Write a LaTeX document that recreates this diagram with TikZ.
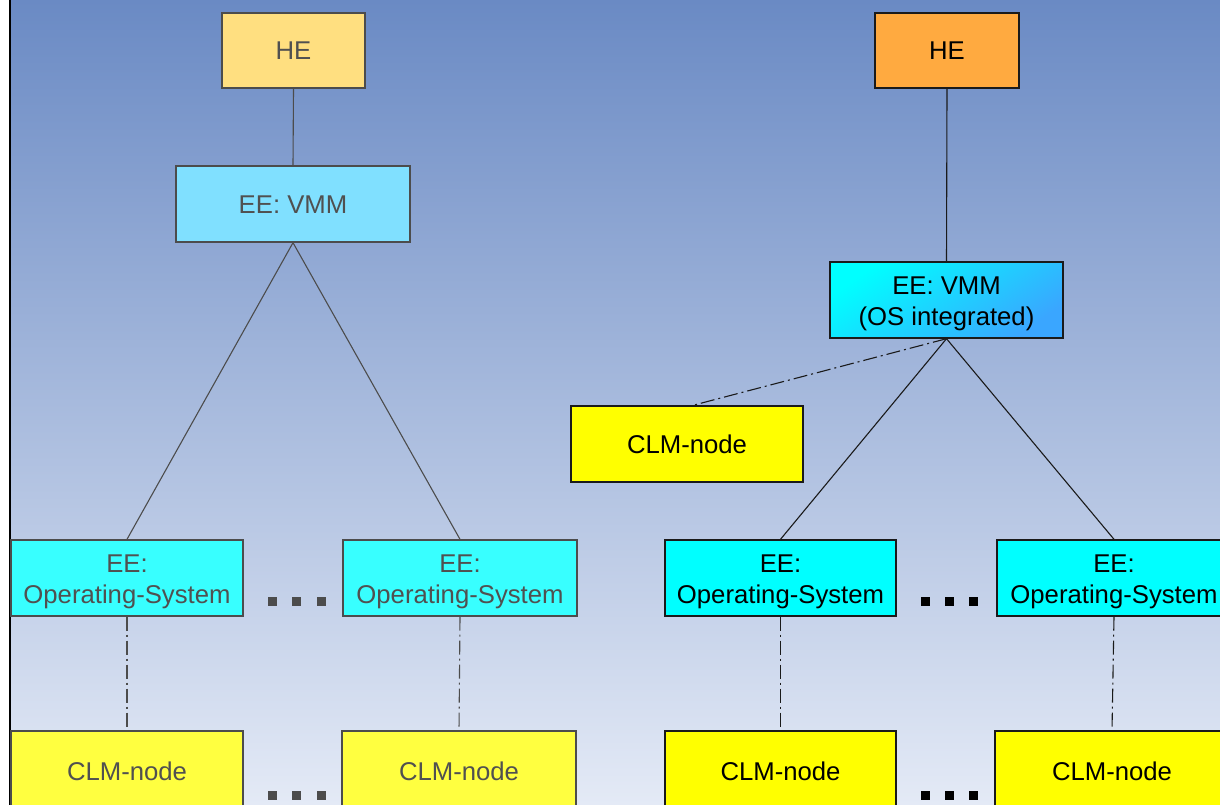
\documentclass[tikz,border=0pt]{standalone}
\usepackage{fontspec}
\setmainfont{Liberation Sans}
\usetikzlibrary{calc}
\definecolor{bgtop}{HTML}{6A8AC4}
\definecolor{bgbot}{HTML}{E4EAF6}
\definecolor{fadeline}{HTML}{4C4C4C}
\definecolor{fadetext}{HTML}{505050}
\definecolor{heA}{HTML}{FFDF80}
\definecolor{vmmA}{HTML}{80E0FF}
\definecolor{osA}{HTML}{38FFFF}
\definecolor{clmA}{HTML}{FFFF40}
\definecolor{heB}{HTML}{FFAA40}
\definecolor{vmmB1}{HTML}{00FFFF}
\definecolor{vmmB2}{HTML}{3AA6FF}
\definecolor{osB}{HTML}{00FFFF}
\definecolor{clmB}{HTML}{FFFF00}
\definecolor{edgeB}{HTML}{1A1A1A}
% set a label a little below its natural place, keeping its box size
\newcommand\lowered[2][4pt]{\raisebox{-#1}[\height][\depth]{#2}}
\newcommand\twolines[2]{\lowered{\begin{tabular}{@{}c@{}}#1\\#2\end{tabular}}}
\tikzset{
  box/.style={draw, line width=1.4pt, inner sep=0pt, align=center,
    minimum height=76pt, font=\fontsize{25.7}{31}\selectfont},
  faded/.style={box, draw=fadeline, text=fadetext},
  solid box/.style={box, draw=edgeB, text=black},
  link/.style={line width=1.1pt},
  dashdot link/.style={line width=1.1pt, dash pattern=on 14pt off 4pt on 2pt off 4pt},
  dotsq/.style={minimum size=9pt, inner sep=0pt}
}
\begin{document}
\begin{tikzpicture}[x=1pt,y=-1pt]
  \useasboundingbox (0,0) rectangle (1220,805);
  \begin{scope}
    \clip (0,0) rectangle (1220,805);
    % backdrop
    \fill[white] (0,0) rectangle (10,805);
    \shade[top color=bgtop, bottom color=bgbot] (10,0) rectangle (1220,805);
    \draw[black, line width=1.4pt] (10,0) -- (10,805);

    % ---------- left tree (faded) ----------
    \node[faded, fill=heA, minimum width=143pt, minimum height=75pt] (lhe) at (293.5,50.5) {HE};
    \node[faded, fill=vmmA, minimum width=234pt] (lvmm) at (293,204) {\lowered[1pt]{EE: VMM}};
    \node[faded, fill=osA, minimum width=232pt] (los1) at (127,578) {\twolines{EE:}{Operating-System}};
    \node[faded, fill=osA, minimum width=234pt] (los2) at (460,578) {\twolines{EE:}{Operating-System}};
    \node[faded, fill=clmA, minimum width=232pt] (lclm1) at (127,769) {\lowered[2pt]{CLM-node}};
    \node[faded, fill=clmA, minimum width=234pt] (lclm2) at (459,769) {\lowered[2pt]{CLM-node}};

    \draw[link, fadeline] (lhe.south) -- (lvmm.north);
    \draw[link, fadeline] (lvmm.south) -- (los1.north);
    \draw[link, fadeline] (lvmm.south) -- (los2.north);
    \draw[dashdot link, fadeline] (los1.south) -- (lclm1.north);
    \draw[dashdot link, fadeline] (los2.south) -- (lclm2.north);

    \foreach \x [count=\i] in {272,296.5,321} {
      \node[dotsq, fill=fadeline] (ldA\i) at (\x,601) {};
      \node[dotsq, fill=fadeline] (ldB\i) at (\x,795) {};
    }

    % ---------- right tree ----------
    \node[solid box, fill=heB, minimum width=144pt, minimum height=75pt] (rhe) at (947,50.5) {HE};
    \node[solid box, top color=vmmB1, bottom color=vmmB2, shading angle=35, minimum width=233pt] (rvmm) at (946.5,300) {\twolines{EE: VMM}{(OS integrated)}};
    \node[solid box, fill=clmB, minimum width=232pt] (mclm) at (687,444) {CLM-node};
    \node[solid box, fill=osB, minimum width=231pt] (ros1) at (780.5,578) {\twolines{EE:}{Operating-System}};
    \node[solid box, fill=osB, minimum width=234pt] (ros2) at (1114,578) {\twolines{EE:}{Operating-System}};
    \node[solid box, fill=clmB, minimum width=231pt] (rclm1) at (780.5,769) {\lowered[2pt]{CLM-node}};
    \node[solid box, fill=clmB, minimum width=234pt] (rclm2) at (1112,769) {\lowered[2pt]{CLM-node}};

    \draw[link, edgeB] (rhe.south) -- (rvmm.north);
    \draw[link, edgeB] (rvmm.south) -- (ros1.north);
    \draw[link, edgeB] (rvmm.south) -- (ros2.north);
    \draw[dashdot link, edgeB] (rvmm.south) -- ($(mclm.north)+(6,0)$);
    \draw[dashdot link, edgeB] (ros1.south) -- (rclm1.north);
    \draw[dashdot link, edgeB] (ros2.south) -- (rclm2.north);

    \foreach \x [count=\i] in {925,949,973} {
      \node[dotsq, fill=black] (rdA\i) at (\x,601) {};
      \node[dotsq, fill=black] (rdB\i) at (\x,795) {};
    }
  \end{scope}
\end{tikzpicture}
\end{document}
